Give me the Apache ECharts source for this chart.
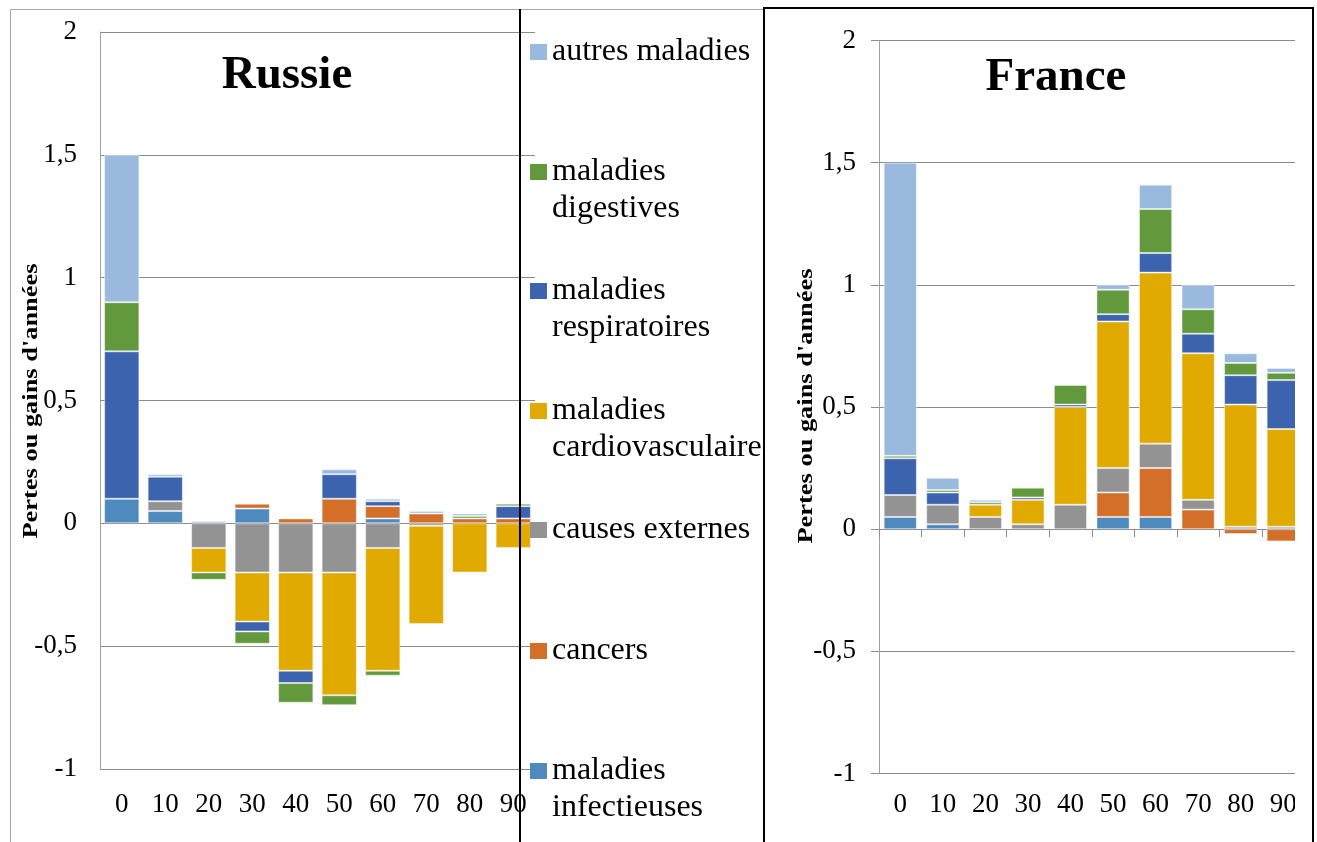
<!DOCTYPE html>
<html>
<head>
<meta charset="utf-8">
<script src="https://cdn.jsdelivr.net/npm/echarts@6/dist/echarts.min.js"></script>
<style>
  html, body { margin: 0; padding: 0; background: #fff; }
  #chart { width: 1317px; height: 842px; }
</style>
</head>
<body>
<div id="chart"></div>
<script>
// Age groups (x categories)
const ages = ['0', '10', '20', '30', '40', '50', '60', '70', '80', '90'];

// Causes of death, in stacking order (bottom to top)
const causes = [
  'maladies infectieuses',
  'cancers',
  'causes externes',
  'maladies cardiovasculaire',
  'maladies respiratoires',
  'maladies digestives',
  'autres maladies'
];

// Legend wording, one entry per line of text
const legendLines = {
  'autres maladies': ['autres maladies'],
  'maladies digestives': ['maladies', 'digestives'],
  'maladies respiratoires': ['maladies', 'respiratoires'],
  'maladies cardiovasculaire': ['maladies', 'cardiovasculaire'],
  'causes externes': ['causes externes'],
  'cancers': ['cancers'],
  'maladies infectieuses': ['maladies', 'infectieuses']
};

const yTitle = "Pertes ou gains d'années";
const panelTitles = ['Russie', 'France'];

// Russia: gains (+) or losses (-) of years, per cause and age group
const ruInfectieuses     = [0.10, 0.05, 0,     0.06,  0,     0,     0.02, 0,     0,    0];
const ruCancers          = [0,    0,    0,     0.02,  0.02,  0.10,  0.05, 0.04,  0.02, 0.02];
const ruExternes         = [0,    0.04, -0.10, -0.20, -0.20, -0.20, -0.10, -0.01, 0,   0];
const ruCardio           = [0,    0,    -0.10, -0.20, -0.40, -0.50, -0.50, -0.40, -0.20, -0.10];
const ruRespiratoires    = [0.60, 0.10, 0,     -0.04, -0.05, 0.10,  0.02, 0,     0,    0.05];
const ruDigestives       = [0.20, 0,    -0.03, -0.05, -0.08, -0.04, -0.02, 0,    0.01, 0.01];
const ruAutres           = [0.60, 0.01, 0.01,  0,     0,     0.02,  0.01, 0.01,  0.01, 0];

// France: gains (+) or losses (-) of years, per cause and age group
const frInfectieuses     = [0.05, 0.02, 0,    0,    0,    0.05, 0.05, 0,    0,     0];
const frCancers          = [0,    0,    0,    0,    0,    0.10, 0.20, 0.08, -0.02, -0.05];
const frExternes         = [0.09, 0.08, 0.05, 0.02, 0.10, 0.10, 0.10, 0.04, 0.01,  0.01];
const frCardio           = [0,    0,    0.05, 0.10, 0.40, 0.60, 0.70, 0.60, 0.50,  0.40];
const frRespiratoires    = [0.15, 0.05, 0,    0.01, 0.01, 0.03, 0.08, 0.08, 0.12,  0.20];
const frDigestives       = [0.01, 0.01, 0.01, 0.04, 0.08, 0.10, 0.18, 0.10, 0.05,  0.03];
const frAutres           = [1.20, 0.05, 0.01, 0,    0,    0.02, 0.10, 0.10, 0.04,  0.02];

// Y axis range and tick step
const yMin = -1, yMax = 2, yStep = 0.5;

const ruSeries = [ruInfectieuses, ruCancers, ruExternes, ruCardio, ruRespiratoires, ruDigestives, ruAutres];
const frSeries = [frInfectieuses, frCancers, frExternes, frCardio, frRespiratoires, frDigestives, frAutres];

const colors = ['#4f8abe', '#d46f2a', '#939393', '#e1aa00', '#3c64ae', '#63993d', '#99b9df'];

const SERIF = "'Liberation Serif', 'Times New Roman', serif";
const gridColor = '#8c8c8c';

const chart = echarts.init(document.getElementById('chart'));

const toData = arr => arr.map(v => (v === 0 ? '-' : v));
const commaFmt = v => String(v).replace('.', ',');

const barStyle = i => ({
  color: colors[i],
  borderColor: 'rgba(255,255,255,0.45)',
  borderWidth: 1
});

const series = [];
causes.forEach((name, i) => {
  series.push({
    type: 'bar', name, stack: 'ru',
    xAxisIndex: 0, yAxisIndex: 0,
    barCategoryGap: '19%',
    itemStyle: barStyle(i),
    data: toData(ruSeries[i])
  });
});
causes.forEach((name, i) => {
  series.push({
    type: 'bar', name, stack: 'fr',
    xAxisIndex: 1, yAxisIndex: 1,
    barCategoryGap: '22%',
    itemStyle: barStyle(i),
    data: toData(frSeries[i])
  });
});

// Legend: one block per cause, the swatch sits beside the first line of text
const legendOrder = [
  'autres maladies', 'maladies digestives', 'maladies respiratoires',
  'maladies cardiovasculaire', 'causes externes', 'cancers', 'maladies infectieuses'
];
const legendCenters = [52, 172, 291, 411, 530, 651, 771];
const LINE_H = 37;
const legends = legendOrder.map((name, k) => {
  const lines = legendLines[name];
  const blockH = lines.length > 1 ? 3 * LINE_H : LINE_H;
  return {
    data: [name],
    left: 530,
    top: legendCenters[k] - blockH / 2,
    padding: 0,
    orient: 'vertical',
    icon: 'rect',
    itemWidth: 17,
    itemHeight: 16,
    itemGap: 6,
    selectedMode: false,
    itemStyle: { borderWidth: 0 },
    formatter: n => {
      const l = legendLines[n];
      return l.length > 1 ? '\n' + l.join('\n') : l[0];
    },
    textStyle: { fontFamily: SERIF, fontSize: 32, lineHeight: LINE_H, color: '#000' }
  };
});

const yAxisCommon = {
  type: 'value',
  min: yMin, max: yMax, interval: yStep,
  axisLine: { show: true, lineStyle: { color: '#a0a0a0', width: 1 } },
  splitLine: { lineStyle: { color: gridColor, width: 1 } },
  axisLabel: { formatter: commaFmt, fontFamily: SERIF, fontSize: 27, color: '#000', margin: 23 }
};

const xLabel = { fontFamily: SERIF, fontSize: 27, color: '#000' };

// Rotated y-axis title, drawn a little elongated along its length
const axisTitle = (x, y) => ({
  type: 'text', z: 100, x, y,
  rotation: Math.PI / 2, scaleX: 1.2,
  style: { text: yTitle, align: 'center', verticalAlign: 'middle',
           font: "bold 22px 'Liberation Serif', serif", fill: '#000' }
});

const option = {
  animation: false,
  backgroundColor: '#fff',
  grid: [
    { left: 100, top: 32, width: 435, height: 737 },
    { left: 879, top: 40.5, width: 425.5, height: 733 }
  ],
  xAxis: [
    {
      gridIndex: 0, type: 'category', data: ages, position: 'bottom',
      axisLine: { show: false, onZero: false }, axisTick: { show: false },
      axisLabel: Object.assign({ margin: 22 }, xLabel)
    },
    {
      gridIndex: 1, type: 'category', data: ages, position: 'bottom',
      axisLine: { show: true, onZero: true, lineStyle: { color: gridColor } },
      axisTick: { show: true, length: 8, lineStyle: { color: gridColor } },
      axisLabel: { show: false }
    },
    {
      gridIndex: 1, type: 'category', data: ages, position: 'bottom',
      axisLine: { show: false, onZero: false }, axisTick: { show: false },
      axisLabel: Object.assign({ margin: 18 }, xLabel)
    }
  ],
  yAxis: [
    Object.assign({}, yAxisCommon, { gridIndex: 0, axisTick: { show: false } }),
    Object.assign({}, yAxisCommon, {
      gridIndex: 1,
      axisTick: { show: true, length: 8, lineStyle: { color: gridColor } }
    })
  ],
  legend: legends,
  series,
  graphic: [
    // outer frame of the left panel
    { type: 'rect', z: 0, shape: { x: 10.5, y: 9.5, width: 753, height: 900 },
      style: { fill: 'none', stroke: '#a6a6a6', lineWidth: 1 } },
    // right edge of the France plot is cut by its frame
    { type: 'rect', z: 99, shape: { x: 1295, y: 20, width: 17, height: 800 },
      style: { fill: '#fff' } },
    // divider between the Russia chart and its legend
    { type: 'line', z: 100, shape: { x1: 520, y1: 9, x2: 520, y2: 842 },
      style: { stroke: '#000', lineWidth: 2 } },
    // France panel frame
    { type: 'rect', z: 100, shape: { x: 764, y: 8, width: 549, height: 900 },
      style: { fill: 'none', stroke: '#000', lineWidth: 2 } },
    // panel titles
    { type: 'text', z: 100, x: 287, y: 76,
      style: { text: panelTitles[0], align: 'center', verticalAlign: 'middle',
               font: "bold 47px 'Liberation Serif', serif", fill: '#000' } },
    { type: 'text', z: 100, x: 1056, y: 78,
      style: { text: panelTitles[1], align: 'center', verticalAlign: 'middle',
               font: "bold 47px 'Liberation Serif', serif", fill: '#000' } },
    // y-axis titles
    axisTitle(31, 401),
    axisTitle(806, 406)
  ]
};

chart.setOption(option);
</script>
</body>
</html>
